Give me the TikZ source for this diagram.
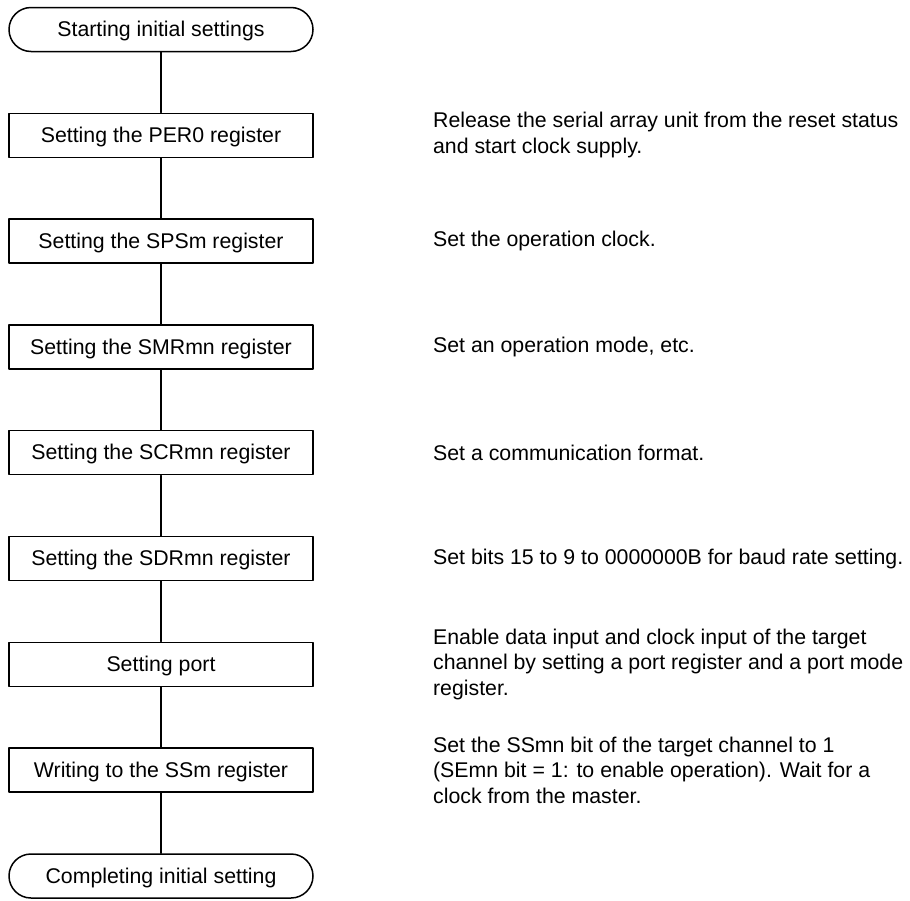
\documentclass[tikz,border=0pt]{standalone}
\usepackage{fontspec}
\setmainfont{Liberation Sans}
\usetikzlibrary{positioning}
\tikzset{
  stepbox/.style={draw, line width=0.75pt, minimum width=152pt, minimum height=22pt,
    inner sep=0pt, text height=0.9em, text depth=0.18em, font=\fontsize{10.65}{12.85}\selectfont},
  termbox/.style={stepbox, rounded corners=11pt},
  note/.style={anchor=west, align=left, inner sep=0pt, font=\fontsize{10.65}{12.85}\selectfont},
}
\begin{document}
\begin{tikzpicture}[x=0.5pt, y=-0.5pt, line cap=round, line join=round]
    \useasboundingbox (0,0) rectangle (910,900);
    \node[termbox] (start) at (161,29.5) {Starting initial settings};
    \foreach \name/\txt [count=\i] in {per0/Setting the PER0 register, spsm/Setting the SPSm register,
        smr/Setting the SMRmn register, scr/Setting the SCRmn register, sdr/Setting the SDRmn register,
        port/Setting port, ssm/Writing to the SSm register}
      \node[stepbox] (\name) at (161,{29.5+105.8*\i}) {\txt};
    \node[termbox] (done) at (161,876) {Completing initial setting};
    \foreach \a/\b in {start/per0, per0/spsm, spsm/smr, smr/scr, scr/sdr, sdr/port, port/ssm, ssm/done}
      \draw[line width=0.75pt] (\a) -- (\b);
    % notes beside the steps
    \node[note, right=59.5pt of per0] (per0n) {Release the serial array unit from the reset status\\and start clock supply.};
    \node[note, right=59.5pt of spsm] (spsmn) {Set the operation clock.};
    \node[note, right=59.5pt of smr] (smrn) {Set an operation mode, etc.};
    \node[note, right=59.5pt of scr] (scrn) {Set a communication format.};
    \node[note, right=59.5pt of sdr] (sdrn) {Set bits 15 to 9 to 0000000B for baud rate setting.};
    \node[note, right=59.5pt of port] (portn) {Enable data input and clock input of the target\\channel by setting a port register and a port mode\\register.};
    \node[note, right=59.5pt of ssm] (ssmn) {Set the SSmn bit of the target channel to 1\\(SEmn bit = 1: to enable operation). Wait for a\\clock from the master.};
\end{tikzpicture}
\end{document}
